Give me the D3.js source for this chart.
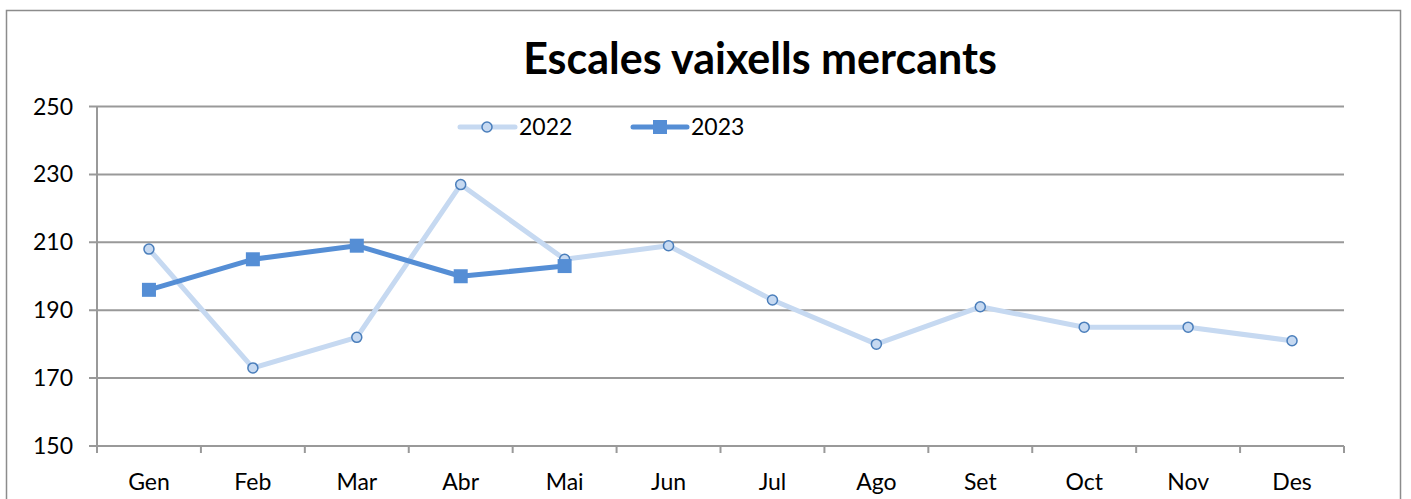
<!DOCTYPE html>
<meta charset="utf-8">
<style>
  body { margin: 0; background: #fff; }
  .chart text { font-family: Lato, "Open Sans", sans-serif; fill: #000; }
</style>
<body>
<svg class="chart"></svg>
<script src="https://cdn.jsdelivr.net/npm/d3@7"></script>
<script>
// data
var months = ["Gen", "Feb", "Mar", "Abr", "Mai", "Jun", "Jul", "Ago", "Set", "Oct", "Nov", "Des"];
var v2022 = [208, 173, 182, 227, 205, 209, 193, 180, 191, 185, 185, 181];
var v2023 = [196, 205, 209, 200, 203];
var yTicks = [150, 170, 190, 210, 230, 250];

var w = 1411, h = 499;
var pLeft = 97, pRight = 1344, pTop = 106.5, pBottom = 446;

var svg = d3.select(".chart").attr("width", w).attr("height", h);

// outer frame
svg.append("rect")
    .attr("x", 6.5).attr("y", 10.5)
    .attr("width", 1394).attr("height", 500)
    .attr("fill", "none").attr("stroke", "#8c8c8c").attr("stroke-width", 1.5);

var x = d3.scaleBand().domain(months).range([pLeft, pRight]);
var y = d3.scaleLinear().domain([150, 250]).range([pBottom, pTop]);

// gridlines
svg.selectAll(".grid").data(yTicks).enter().append("line")
    .attr("x1", pLeft - 8).attr("x2", pRight)
    .attr("y1", function (d) { return y(d); })
    .attr("y2", function (d) { return y(d); })
    .attr("stroke", "#999").attr("stroke-width", 2);

// y axis
svg.append("line")
    .attr("x1", pLeft).attr("x2", pLeft).attr("y1", pTop).attr("y2", pBottom)
    .attr("stroke", "#999").attr("stroke-width", 2);

svg.selectAll(".ylab").data(yTicks).enter().append("text")
    .attr("x", 73).attr("y", function (d) { return y(d) + 8; })
    .attr("text-anchor", "end").style("font-size", "23px")
    .text(function (d) { return d; });

// x ticks
var edges = months.map(function (m) { return x(m); }).concat([pRight]);
svg.selectAll(".xt").data(edges).enter().append("line")
    .attr("x1", function (d) { return d; }).attr("x2", function (d) { return d; })
    .attr("y1", pBottom).attr("y2", pBottom + 7)
    .attr("stroke", "#999").attr("stroke-width", 2);

svg.selectAll(".xlab").data(months).enter().append("text")
    .attr("x", function (d) { return x(d) + x.bandwidth() / 2; })
    .attr("y", 490).attr("text-anchor", "middle").style("font-size", "23px")
    .text(function (d) { return d; });

// title
svg.append("text").attr("x", 760).attr("y", 74).attr("text-anchor", "middle")
    .style("font-size", "43px").style("font-weight", "bold")
    .text("Escales vaixells mercants");

var line = d3.line()
    .x(function (d, i) { return x(months[i]) + x.bandwidth() / 2; })
    .y(function (d) { return y(d); });

// 2022
svg.append("path").datum(v2022).attr("d", line)
    .attr("fill", "none").attr("stroke", "#c6d9f1").attr("stroke-width", 5)
    .attr("stroke-linejoin", "round");
svg.selectAll(".c22").data(v2022).enter().append("circle")
    .attr("cx", function (d, i) { return x(months[i]) + x.bandwidth() / 2; })
    .attr("cy", function (d) { return y(d); })
    .attr("r", 5).attr("fill", "#c6d9f1").attr("stroke", "#4a7ebb").attr("stroke-width", 1.5);

// 2023
svg.append("path").datum(v2023).attr("d", line)
    .attr("fill", "none").attr("stroke", "#558ed5").attr("stroke-width", 5)
    .attr("stroke-linejoin", "round");
svg.selectAll(".s23").data(v2023).enter().append("rect")
    .attr("x", function (d, i) { return x(months[i]) + x.bandwidth() / 2 - 7; })
    .attr("y", function (d) { return y(d) - 7; })
    .attr("width", 14).attr("height", 14).attr("fill", "#558ed5");

// legend
var lg = svg.append("g");
lg.append("line").attr("x1", 460).attr("x2", 515).attr("y1", 127).attr("y2", 127)
    .attr("stroke", "#c6d9f1").attr("stroke-width", 5).attr("stroke-linecap", "round");
lg.append("circle").attr("cx", 487).attr("cy", 127).attr("r", 5)
    .attr("fill", "#c6d9f1").attr("stroke", "#4a7ebb").attr("stroke-width", 1.5);
lg.append("text").attr("x", 519).attr("y", 135).style("font-size", "23px").text("2022");

lg.append("line").attr("x1", 633).attr("x2", 687).attr("y1", 127).attr("y2", 127)
    .attr("stroke", "#558ed5").attr("stroke-width", 5).attr("stroke-linecap", "round");
lg.append("rect").attr("x", 653).attr("y", 120).attr("width", 14).attr("height", 14)
    .attr("fill", "#558ed5");
lg.append("text").attr("x", 691).attr("y", 135).style("font-size", "23px").text("2023");
</script>
</body>
